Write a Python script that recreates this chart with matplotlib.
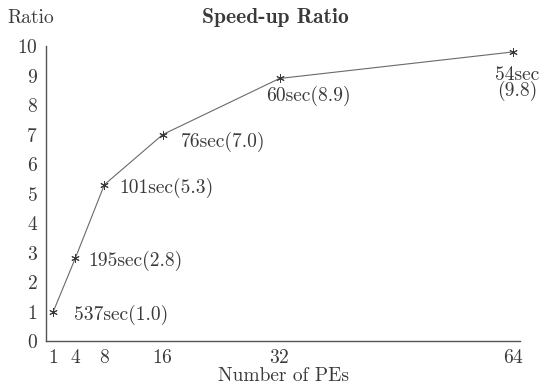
import matplotlib.pyplot as plt

plt.rcParams["font.family"] = ["cmr10", "DejaVu Serif"]
plt.rcParams["axes.formatter.use_mathtext"] = True
plt.rcParams["font.size"] = 14

# data
pes = [1, 4, 8, 16, 32, 64]
ratio = [1.0, 2.8, 5.3, 7.0, 8.9, 9.8]
labels = ["537sec(1.0)", "195sec(2.8)", "101sec(5.3)", "76sec(7.0)",
          "60sec(8.9)", "54sec\n(9.8)"]
xticks = [1, 4, 8, 16, 32, 64]
yticks = list(range(0, 11))

# label offsets in pixels and alignment
offsets = [(21, -3), (13, -3), (15, -3), (18, -7), (29, -7), (4, -14)]
aligns = ["left", "left", "left", "left", "center", "center"]

ink = "#3a3a3a"

fig = plt.figure(figsize=(5.51, 3.92), dpi=100)
ax = fig.add_axes([0.0835, 0.130, 0.861, 0.7526])

ax.plot(pes, ratio, "-", color="#6a6a6a", lw=0.8,
        marker=(6, 2, 0), markersize=6, markeredgewidth=0.7, markeredgecolor=ink)

for x, y, t, off, ha in zip(pes, ratio, labels, offsets, aligns):
    ax.annotate(t, (x, y), xytext=off, textcoords="offset pixels",
                ha=ha, va="center" if ha == "left" else "top",
                color=ink, linespacing=0.78)

ax.set_xlim(0, 65)
ax.set_ylim(0, 10)
ax.set_xticks(xticks)
ax.set_yticks(yticks)
ax.tick_params(length=0, pad=6, colors=ink)
for s in ["top", "right"]:
    ax.spines[s].set_visible(False)
for s in ["left", "bottom"]:
    ax.spines[s].set_color("#555555")
    ax.spines[s].set_linewidth(1.0)

ax.set_xlabel("Number of PEs", color=ink, labelpad=0)
fig.text(0.055, 0.955, "Ratio", color=ink, ha="center", va="center")
fig.text(0.5, 0.955, "Speed-up Ratio", color=ink, ha="center", va="center",
         family=["cmb10", "DejaVu Serif"], fontsize=15.5)

fig.savefig("out.png", dpi=100)
